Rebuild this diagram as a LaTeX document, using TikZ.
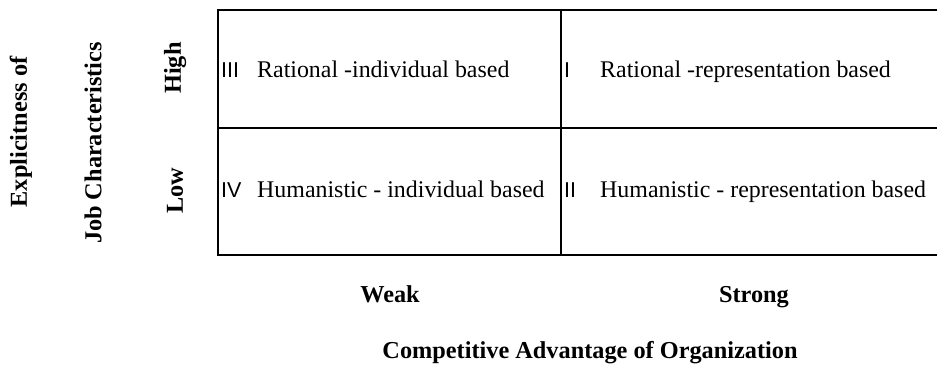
\documentclass[tikz,border=0pt]{standalone}
\usepackage{fontspec}
\setmainfont{Liberation Serif}
\newfontfamily\numfont{Liberation Sans}
\begin{document}
\begin{tikzpicture}[x=1pt,y=1pt,
  grid/.style={line width=1.4pt,black},
  celltext/.style={anchor=base west,inner sep=0pt,font=\fontsize{23.9}{27}\selectfont},
  numtext/.style={anchor=base west,inner sep=0pt,font=\numfont\fontsize{21.5}{25}\selectfont},
  axislabel/.style={inner sep=0pt,font=\bfseries\fontsize{24.3}{27}\selectfont}]
\useasboundingbox (0,0) rectangle (937,-378);
% grid
\coordinate (tl) at (218,-10);
\coordinate (tr) at (940,-10);
\coordinate (ml) at (218,-128);
\coordinate (mr) at (940,-128);
\coordinate (bl) at (218,-255);
\coordinate (br) at (940,-255);
\coordinate (mt) at (561,-10);
\coordinate (mb) at (561,-255);
\draw[grid] (tr) -- (tl) -- (bl) -- (br);
\draw[grid] (ml) -- (mr);
\draw[grid] (mt) -- (mb);
% cells
\node[numtext] (n3) at (221,-77) {III};
\node[celltext] (t3) at (257,-77) {Rational -individual based};
\node[numtext] (n4) at (221,-197) {IV};
\node[celltext] (t4) at (257,-197) {Humanistic - individual based};
\node[numtext] (n1) at (564,-77) {I};
\node[celltext] (t1) at (600,-77) {Rational -representation based};
\node[numtext] (n2) at (564,-197) {II};
\node[celltext] (t2) at (600,-197) {Humanistic - representation based};
% vertical axis labels
\node[axislabel,rotate=90] (expl) at (21,-132) {Explicitness of};
\node[axislabel,rotate=90] (job) at (93,-143) {Job Characteristics};
\node[axislabel,rotate=90] (high) at (175,-68) {High};
\node[axislabel,rotate=90] (low) at (175,-191) {Low};
% horizontal axis labels
\node[axislabel,anchor=base] (weak) at (390,-302) {Weak};
\node[axislabel,anchor=base] (strong) at (754,-302) {Strong};
\node[axislabel,anchor=base] (comp) at (590,-358) {Competitive Advantage of Organization};
\end{tikzpicture}
\end{document}
